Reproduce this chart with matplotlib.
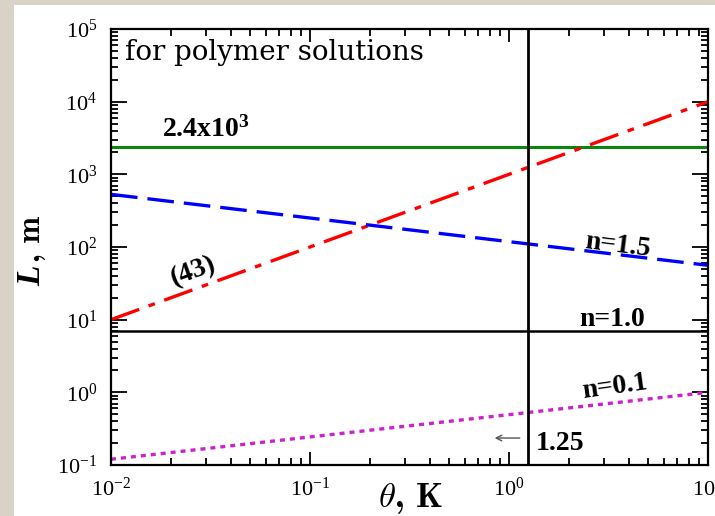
import numpy as np
import matplotlib
matplotlib.use("Agg")
import matplotlib.pyplot as plt
from matplotlib.patches import Rectangle

plt.rcParams['font.family'] = ['Liberation Serif', 'DejaVu Serif']
plt.rcParams['mathtext.fontset'] = 'cm'

# data: end points of the straight log-log lines
theta_ends = [1e-2, 1e1]
L_eq43 = [10.0, 1.0e4]       # red dash-dot, eq. (43)
L_n15 = [530.0, 56.0]        # blue dashed, n=1.5
L_n01 = [0.12, 1.0]          # magenta dotted, n=0.1
L_limit = 2.4e3              # green horizontal
L_n10 = 7.0                  # black horizontal, n=1.0
theta_mark = 1.25            # black vertical

fig = plt.figure(figsize=(7.15, 5.16), dpi=100)
fig.patch.set_facecolor('#d9d2c6')
fig.patches.append(Rectangle((14 / 715, 0), 1, 511 / 516, transform=fig.transFigure,
                             facecolor='white', edgecolor='none', zorder=-1))
ax = fig.add_axes([111 / 715, 51 / 516, 597 / 715, 436 / 516])
ax.set_xscale('log')
ax.set_yscale('log')
ax.set_xlim(1e-2, 1e1)
ax.set_ylim(1e-1, 1e5)

ax.plot(theta_ends, [L_limit, L_limit], color='#0a870a', lw=2.2, solid_capstyle='butt')
ax.plot(theta_ends, L_eq43, color='#ff0000', lw=2.4, dashes=(9, 3, 2, 3))
ax.plot(theta_ends, L_n15, color='#0000ff', lw=2.4, dashes=(8, 3))
ax.plot(theta_ends, L_n01, color='#cc22cc', lw=2.4, dashes=(1.5, 1.5))
ax.axhline(L_n10, color='black', lw=1.8)
ax.axvline(theta_mark, color='black', lw=2.0)

bold = dict(fontweight='bold', fontsize=20)
ax.text(0.0118, 3.72e4, 'for polymer solutions', va='baseline', ha='left',
        fontfamily='DejaVu Serif', fontsize=20)
ax.text(0.018, 2.75e3, r'$\mathdefault{2.4x10^{3}}$', va='bottom', ha='left', **bold)
ax.text(0.026, 46, '(43)', rotation=20, ha='center', va='center', **bold)
ax.text(3.5, 106, 'n=1.5', rotation=-7, ha='center', va='center', **bold)
ax.text(3.3, 9.9, 'n=1.0', ha='center', va='center', **bold)
ax.text(3.4, 1.17, 'n=0.1', rotation=8, ha='center', va='center', **bold)
ax.text(1.8, 0.2, '1.25', ha='center', va='center', **bold)
ax.annotate('', xy=(0.82, 0.235), xytext=(1.17, 0.235),
            arrowprops=dict(arrowstyle='->', color='#555555', lw=1.0))

ax.set_xlabel(r'$\theta$, K', fontsize=25, fontfamily='cmb10')
ax.xaxis.set_label_coords(0.502, -0.036)
# y label: bold italic L followed by ", m"
ax.text(-0.133, 0.41, 'L', transform=ax.transAxes, rotation=90, rotation_mode='anchor',
        ha='left', va='center', fontsize=24, fontweight='bold', fontstyle='italic')
ax.text(-0.133, 0.465, ', m', transform=ax.transAxes, rotation=90, rotation_mode='anchor',
        ha='left', va='center', fontsize=23, fontfamily='cmb10')

for s in ax.spines.values():
    s.set_linewidth(1.6)
ax.tick_params(which='both', direction='in', top=True, right=True, labelsize=16, width=1.3)
ax.tick_params(axis='y', which='major', length=11.5, pad=10)
ax.tick_params(axis='x', which='major', length=9.5, pad=9)
ax.tick_params(which='minor', length=5)

fig.savefig('out.png', dpi=100, facecolor=fig.get_facecolor())
